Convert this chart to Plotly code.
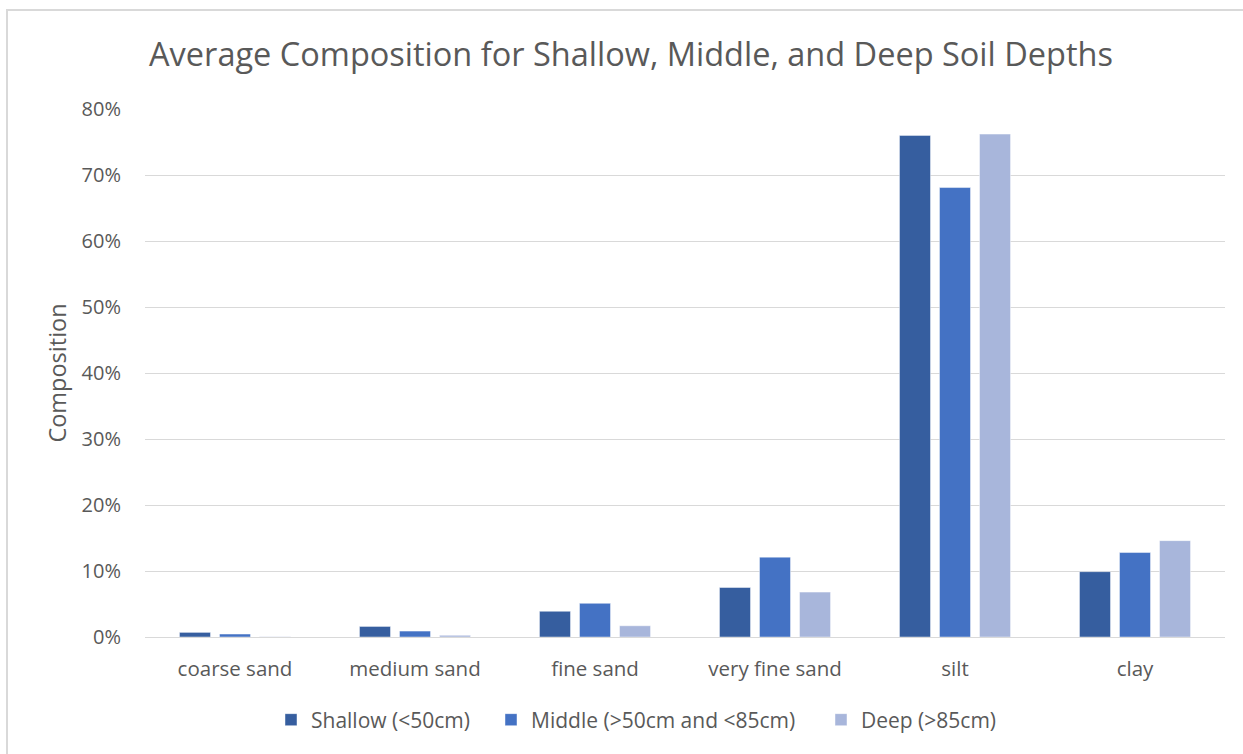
import plotly.graph_objects as go

# Soil fraction categories and average composition (fraction of total) per depth band
categories = ["coarse sand", "medium sand", "fine sand", "very fine sand", "silt", "clay"]
shallow = [0.007, 0.016, 0.039, 0.075, 0.760, 0.099]
middle = [0.0045, 0.009, 0.051, 0.121, 0.681, 0.128]
deep = [0.0005, 0.0026, 0.017, 0.068, 0.762, 0.146]

series_names = ["Shallow (<50cm)", "Middle (>50cm and <85cm)", "Deep (>85cm)"]
series_values = [shallow, middle, deep]
series_colors = ["#365E9F", "#4472C4", "#A8B6DB"]

y_ticks = [0, 0.1, 0.2, 0.3, 0.4, 0.5, 0.6, 0.7, 0.8]

FONT = "Open Sans"
TEXT = "#595959"

W, H = 1243, 754
ml, mr, mt, mb = 145, 18, 109, 117
pw, ph = W - ml - mr, H - mt - mb

# one legend box per series, laid out along the bottom
legend_ids = ["legend", "legend2", "legend3"]
legend_left_px = [271, 491, 821]

fig = go.Figure()
for name, vals, col, lg in zip(series_names, series_values, series_colors, legend_ids):
    fig.add_trace(go.Bar(
        x=categories, y=vals, name=name, legend=lg,
        marker=dict(color=col, line=dict(color="rgba(255,255,255,0.45)", width=1)),
    ))

legend_y = -(720 - (mt + ph)) / ph
legend_style = {}
for lg, lx in zip(legend_ids, legend_left_px):
    legend_style[lg] = dict(
        orientation="h", x=(lx - ml) / pw, xanchor="left",
        y=legend_y, yanchor="middle",
        font=dict(family=FONT, size=21, color=TEXT),
        bgcolor="rgba(0,0,0,0)",
    )

fig.update_layout(
    width=W, height=H,
    margin=dict(l=ml, r=mr, t=mt, b=mb, pad=0, autoexpand=False),
    paper_bgcolor="white", plot_bgcolor="white",
    barmode="group", bargap=0.333, bargroupgap=0.225,
    font=dict(family=FONT, color=TEXT),
    title=dict(
        text="Average Composition for Shallow, Middle, and Deep Soil Depths",
        font=dict(family=FONT, size=32.5, color=TEXT),
        x=631 / W, xanchor="center", y=1 - 55 / H, yanchor="middle",
    ),
    showlegend=True,
    xaxis=dict(
        showgrid=False, showline=False, ticks="", tickangle=0,
        tickfont=dict(family=FONT, size=20.5, color=TEXT),
        ticklabelstandoff=17,
    ),
    yaxis=dict(
        range=[0, 0.8], tickvals=y_ticks, tickformat=".0%",
        showgrid=True, gridcolor="#D9D9D9", gridwidth=1,
        zeroline=True, zerolinecolor="#D9D9D9", zerolinewidth=1,
        showline=False, ticks="",
        tickfont=dict(family=FONT, size=20, color=TEXT),
        ticklabelstandoff=23,
        title=dict(text="Composition", font=dict(family=FONT, size=23.5, color=TEXT), standoff=8),
    ),
    **legend_style,
)

# Chart frame
fig.add_shape(
    type="rect", xref="paper", yref="paper",
    x0=(7 - ml) / pw, x1=(W + 20 - ml) / pw,
    y0=-(H + 20 - mt - ph) / ph, y1=(mt + ph - 10) / ph,
    line=dict(color="#D9D9D9", width=2), fillcolor="rgba(0,0,0,0)", layer="below",
)

fig.write_html("out.html")
